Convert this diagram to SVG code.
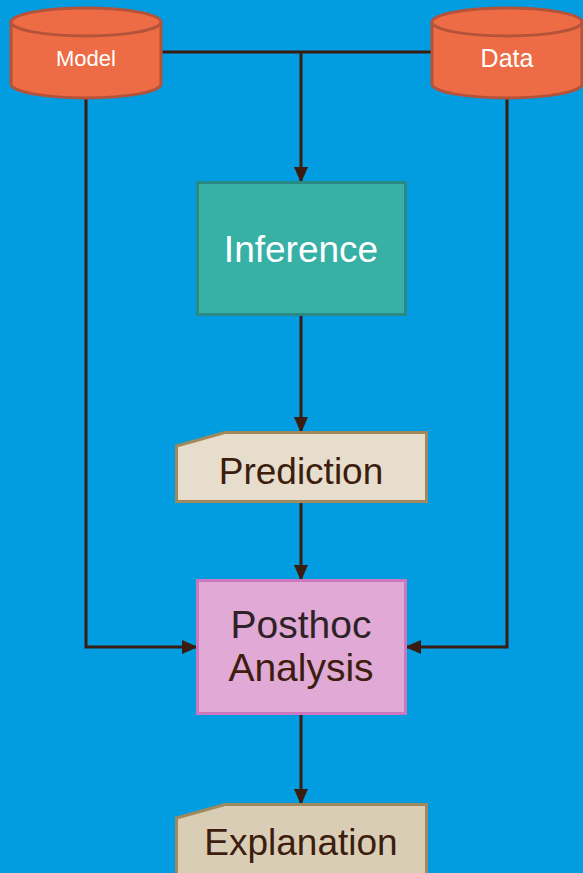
<svg xmlns="http://www.w3.org/2000/svg" width="583" height="873" viewBox="0 0 583 873">
  <style>
    .cyl { fill: #ed6c45; stroke: #b4523a; stroke-width: 3; }
    .lbl { font-family: "Liberation Sans", Arial, sans-serif; text-anchor: middle; }
    .wire { fill: none; stroke: #3a1d10; stroke-width: 3; }
    .arrow { marker-end: url(#head); }
  </style>
  <defs>
    <marker id="head" markerUnits="userSpaceOnUse" markerWidth="16" markerHeight="14" viewBox="0 0 16 14" refX="15" refY="7" orient="auto">
      <path d="M0,0 L16,7 L0,14 Z" fill="#3a1d10"/>
    </marker>
  </defs>

  <rect x="0" y="0" width="583" height="873" fill="#019de0"/>

  <!-- connectors -->
  <g id="connectors">
    <path class="wire" d="M161,52 H432"/>
    <path class="wire arrow" d="M301,52 V182"/>
    <path class="wire arrow" d="M301,315 V432"/>
    <path class="wire arrow" d="M301,502 V580"/>
    <path class="wire arrow" d="M86,98 V647 H197"/>
    <path class="wire arrow" d="M507,98 V647 H406"/>
    <path class="wire arrow" d="M301,714 V804"/>
  </g>

  <!-- Model store -->
  <g id="model">
    <path class="cyl" d="M11,22 V84 A75,14 0 0 0 161,84 V22 A75,14 0 0 0 11,22 Z"/>
    <path class="cyl" d="M11,22 A75,14 0 0 0 161,22" fill="none"/>
    <text class="lbl" x="86" y="66" font-size="22" fill="#ffffff">Model</text>
  </g>

  <!-- Data store -->
  <g id="data">
    <path class="cyl" d="M432,22 V84 A75,14 0 0 0 582,84 V22 A75,14 0 0 0 432,22 Z"/>
    <path class="cyl" d="M432,22 A75,14 0 0 0 582,22" fill="none"/>
    <text class="lbl" x="507" y="67" font-size="25" fill="#ffffff">Data</text>
  </g>

  <!-- Inference step -->
  <g id="inference">
    <rect x="197.5" y="182.5" width="208" height="132" fill="#37b0a6" stroke="#2a8a83" stroke-width="3"/>
    <text class="lbl" x="301" y="262" font-size="37" fill="#ffffff">Inference</text>
  </g>

  <!-- Prediction document -->
  <g id="prediction">
    <path d="M176.5,446 L225,432.5 H426.5 V501.5 H176.5 Z" fill="#e7ddcd" stroke="#a0895d" stroke-width="3"/>
    <text class="lbl" x="301" y="484" font-size="37" fill="#3c1d0e">Prediction</text>
  </g>

  <!-- Posthoc analysis step -->
  <g id="posthoc">
    <rect x="197.5" y="580.5" width="208" height="133" fill="#e0a9d6" stroke="#cc78c0" stroke-width="3"/>
    <text class="lbl" x="301" y="638" font-size="39" fill="#2e2226">Posthoc</text>
    <text class="lbl" x="301" y="681" font-size="39" fill="#3c1d0e">Analysis</text>
  </g>

  <!-- Explanation document -->
  <g id="explanation">
    <path d="M176.5,818 L225,804.5 H426.5 V880 H176.5 Z" fill="#dacdb6" stroke="#a0895d" stroke-width="3"/>
    <text class="lbl" x="301" y="855" font-size="37" fill="#3c1d0e">Explanation</text>
  </g>
</svg>
